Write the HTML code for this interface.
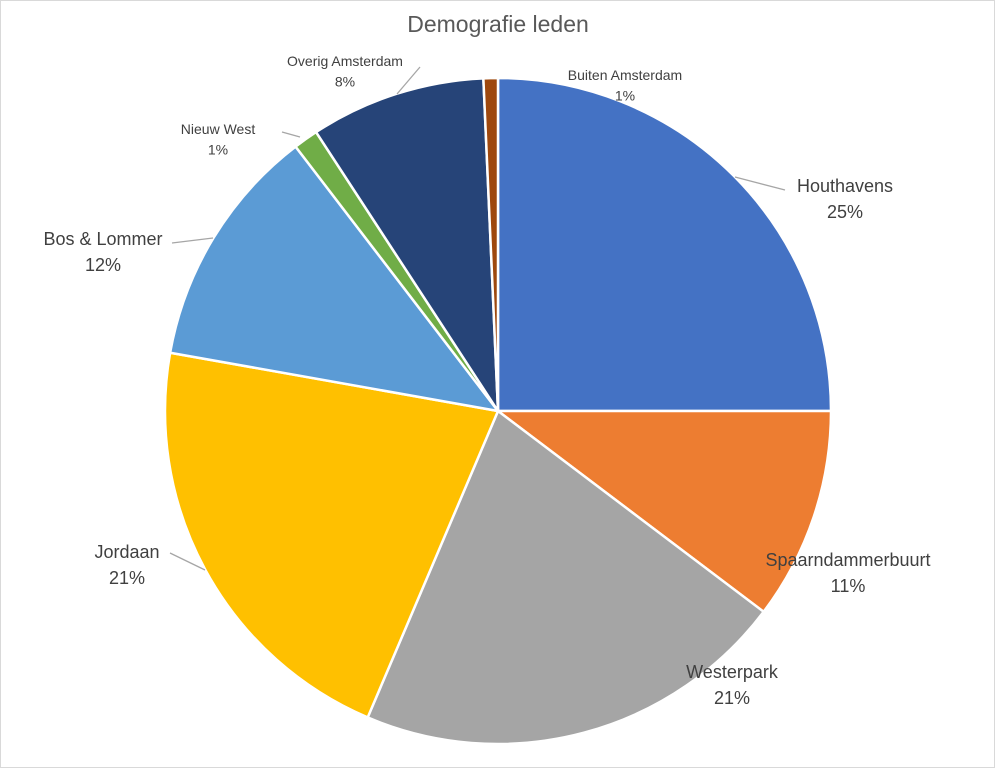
<!DOCTYPE html>
<html><head><meta charset="utf-8"><style>
html,body{margin:0;padding:0;background:#fff;}
svg{display:block;font-family:"Liberation Sans",sans-serif;}
</style></head><body>
<svg id="chart" width="995" height="768" viewBox="0 0 995 768">
<rect x="0.5" y="0.5" width="994" height="767" fill="#fff" stroke="#d9d9d9"/>
<text x="498" y="32" text-anchor="middle" font-size="23" fill="#595959">Demografie leden</text>
<g id="slices"></g>
<g id="labels"></g>
</svg>
<script>
const categories = ["Houthavens","Spaarndammerbuurt","Westerpark","Jordaan","Bos & Lommer","Nieuw West","Overig Amsterdam","Buiten Amsterdam"];
const values = [25, 10.3, 21.1, 21.4, 11.8, 1.2, 8.5, 0.7];
const pctLabels = ["25%","11%","21%","21%","12%","1%","8%","1%"];
const colors = ["#4472C4","#ED7D31","#A5A5A5","#FFC000","#5B9BD5","#70AD47","#264478","#9E480E"];
// layout config (not data): label anchor positions, font sizes, leader lines
const labelLayout = [
 {x:845,y:192,fs:18,line:[735,177,785,190]},
 {x:848,y:566,fs:18},
 {x:732,y:678,fs:18},
 {x:127,y:558,fs:18,line:[170,553,205,570]},
 {x:103,y:245,fs:18,line:[172,243,213,238]},
 {x:218,y:134,fs:14,line:[282,132,300,137]},
 {x:345,y:66,fs:14,line:[397,94,420,67]},
 {x:625,y:80,fs:14}
];
const cx=498, cy=411, R=333;
const NS="http://www.w3.org/2000/svg";
const total=values.reduce((a,b)=>a+b,0);
function pt(a,r){return [cx+r*Math.sin(a), cy-r*Math.cos(a)];}
const sg=document.getElementById('slices'), lg=document.getElementById('labels');
let acc=0;
values.forEach((v,i)=>{
  const a0=acc/total*2*Math.PI; acc+=v; const a1=acc/total*2*Math.PI;
  const p0=pt(a0,R), p1=pt(a1,R);
  const large=(a1-a0)>Math.PI?1:0;
  const p=document.createElementNS(NS,'path');
  p.setAttribute('d',`M${cx},${cy}L${p0[0]},${p0[1]}A${R},${R} 0 ${large} 1 ${p1[0]},${p1[1]}Z`);
  p.setAttribute('fill',colors[i]);p.setAttribute('stroke','#fff');p.setAttribute('stroke-width','2.5');
  p.setAttribute('stroke-linejoin','round');
  
  
  sg.appendChild(p);
  const L=labelLayout[i];
  if(L.line){
    const ln=document.createElementNS(NS,'line');
    ln.setAttribute('x1',L.line[0]);ln.setAttribute('y1',L.line[1]);ln.setAttribute('x2',L.line[2]);ln.setAttribute('y2',L.line[3]);
    ln.setAttribute('stroke','#a6a6a6');ln.setAttribute('stroke-width','1.3');
    
    
    lg.appendChild(ln);
  }
  const t=document.createElementNS(NS,'text');
  t.setAttribute('x',L.x);t.setAttribute('y',L.y);t.setAttribute('text-anchor','middle');
  t.setAttribute('font-size',L.fs);t.setAttribute('fill','#404040');
  
  
  const s1=document.createElementNS(NS,'tspan');s1.setAttribute('x',L.x);s1.textContent=categories[i];
  const s2=document.createElementNS(NS,'tspan');s2.setAttribute('x',L.x);s2.setAttribute('dy',L.fs*1.45);s2.textContent=pctLabels[i];
  t.appendChild(s1);t.appendChild(s2);lg.appendChild(t);
});
</script>
</body></html>
